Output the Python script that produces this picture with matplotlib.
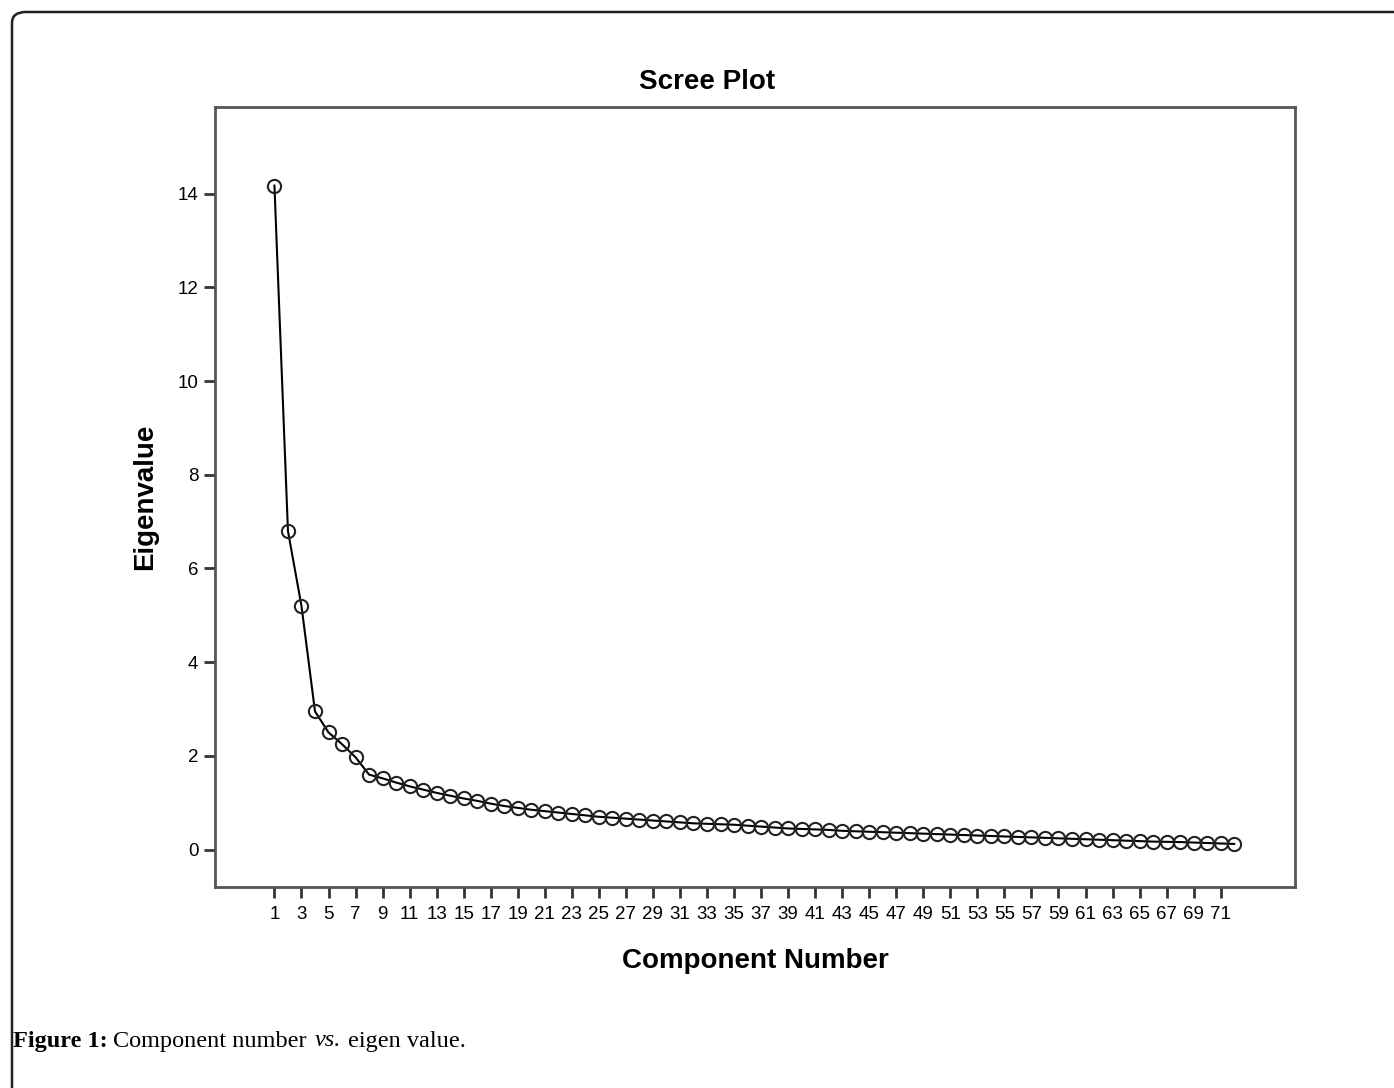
import numpy as np
import matplotlib
matplotlib.use("Agg")
import matplotlib.pyplot as plt
from matplotlib.patches import FancyBboxPatch

# eigenvalues, components 1..72
components = list(range(1, 73))
eigenvalues = [14.17, 6.80, 5.20, 2.95, 2.50, 2.25, 1.97, 1.60, 1.52, 1.43,
               1.35, 1.28, 1.21, 1.15, 1.09, 1.04, 0.98, 0.93, 0.89, 0.85,
               0.82, 0.79, 0.76, 0.73, 0.70, 0.68, 0.66, 0.64, 0.62, 0.60,
               0.58, 0.56, 0.55, 0.54, 0.53, 0.51, 0.49, 0.47, 0.45, 0.44,
               0.43, 0.42, 0.40, 0.39, 0.38, 0.37, 0.36, 0.35, 0.34, 0.33,
               0.32, 0.31, 0.30, 0.29, 0.28, 0.27, 0.26, 0.25, 0.24, 0.23,
               0.22, 0.21, 0.20, 0.19, 0.18, 0.17, 0.165, 0.16, 0.15, 0.14,
               0.13, 0.12]
xtick_vals = list(range(1, 72, 2))
ytick_vals = [0, 2, 4, 6, 8, 10, 12, 14]

plt.rcParams['font.family'] = ['Liberation Sans', 'DejaVu Sans']

fig = plt.figure(figsize=(13.94, 10.88), dpi=100)
ax = fig.add_axes([0.1542, 0.1847, 0.7748, 0.7170])

ax.plot(components, eigenvalues, color='black', lw=1.5, marker='o',
        markersize=9.5, markerfacecolor='none', markeredgecolor='#222222',
        markeredgewidth=1.5)

ax.set_xlim(-3.4, 76.5)
ax.set_ylim(-0.8, 15.85)
ax.set_xticks(xtick_vals)
ax.set_xticklabels([str(v) for v in xtick_vals])
ax.set_yticks(ytick_vals)
ax.tick_params(axis='both', direction='out', length=8, width=2, color='#333333',
               labelsize=13.5)
ax.tick_params(axis='x', pad=6)
ax.tick_params(axis='y', pad=4)
for sp in ax.spines.values():
    sp.set_color('#555555')
    sp.set_linewidth(2)

ax.set_xlabel('Component Number', fontsize=20, fontweight='bold', labelpad=18)
ax.set_ylabel('Eigenvalue', fontsize=20, fontweight='bold', labelpad=14)
fig.text(707 / 1394, 1 - 82 / 1088, 'Scree Plot', fontsize=20, fontweight='bold',
         ha='center', va='center')

# outer frame with rounded corner (runs off right and bottom edges)
frame = FancyBboxPatch((12 / 1394, -0.2), 1.3, 1 - 12 / 1088 + 0.2,
                       boxstyle='round,pad=0,rounding_size=0.01',
                       transform=fig.transFigure, fill=False,
                       edgecolor='#222222', lw=1.8, clip_on=False)
fig.patches.append(frame)

# caption
cy = 1 - 1041 / 1088
fig.text(13 / 1394, cy, 'Figure 1:', fontsize=17.5, fontweight='bold',
         family='Liberation Serif', ha='left', va='center')
fig.text(113 / 1394, cy, 'Component number', fontsize=17.5,
         family='Liberation Serif', ha='left', va='center')
fig.text(315 / 1394, cy, 'vs.', fontsize=17.5, style='italic',
         family='Liberation Serif', ha='left', va='center')
fig.text(348 / 1394, cy, 'eigen value.', fontsize=17.5,
         family='Liberation Serif', ha='left', va='center')

fig.savefig('out.png', dpi=100)
